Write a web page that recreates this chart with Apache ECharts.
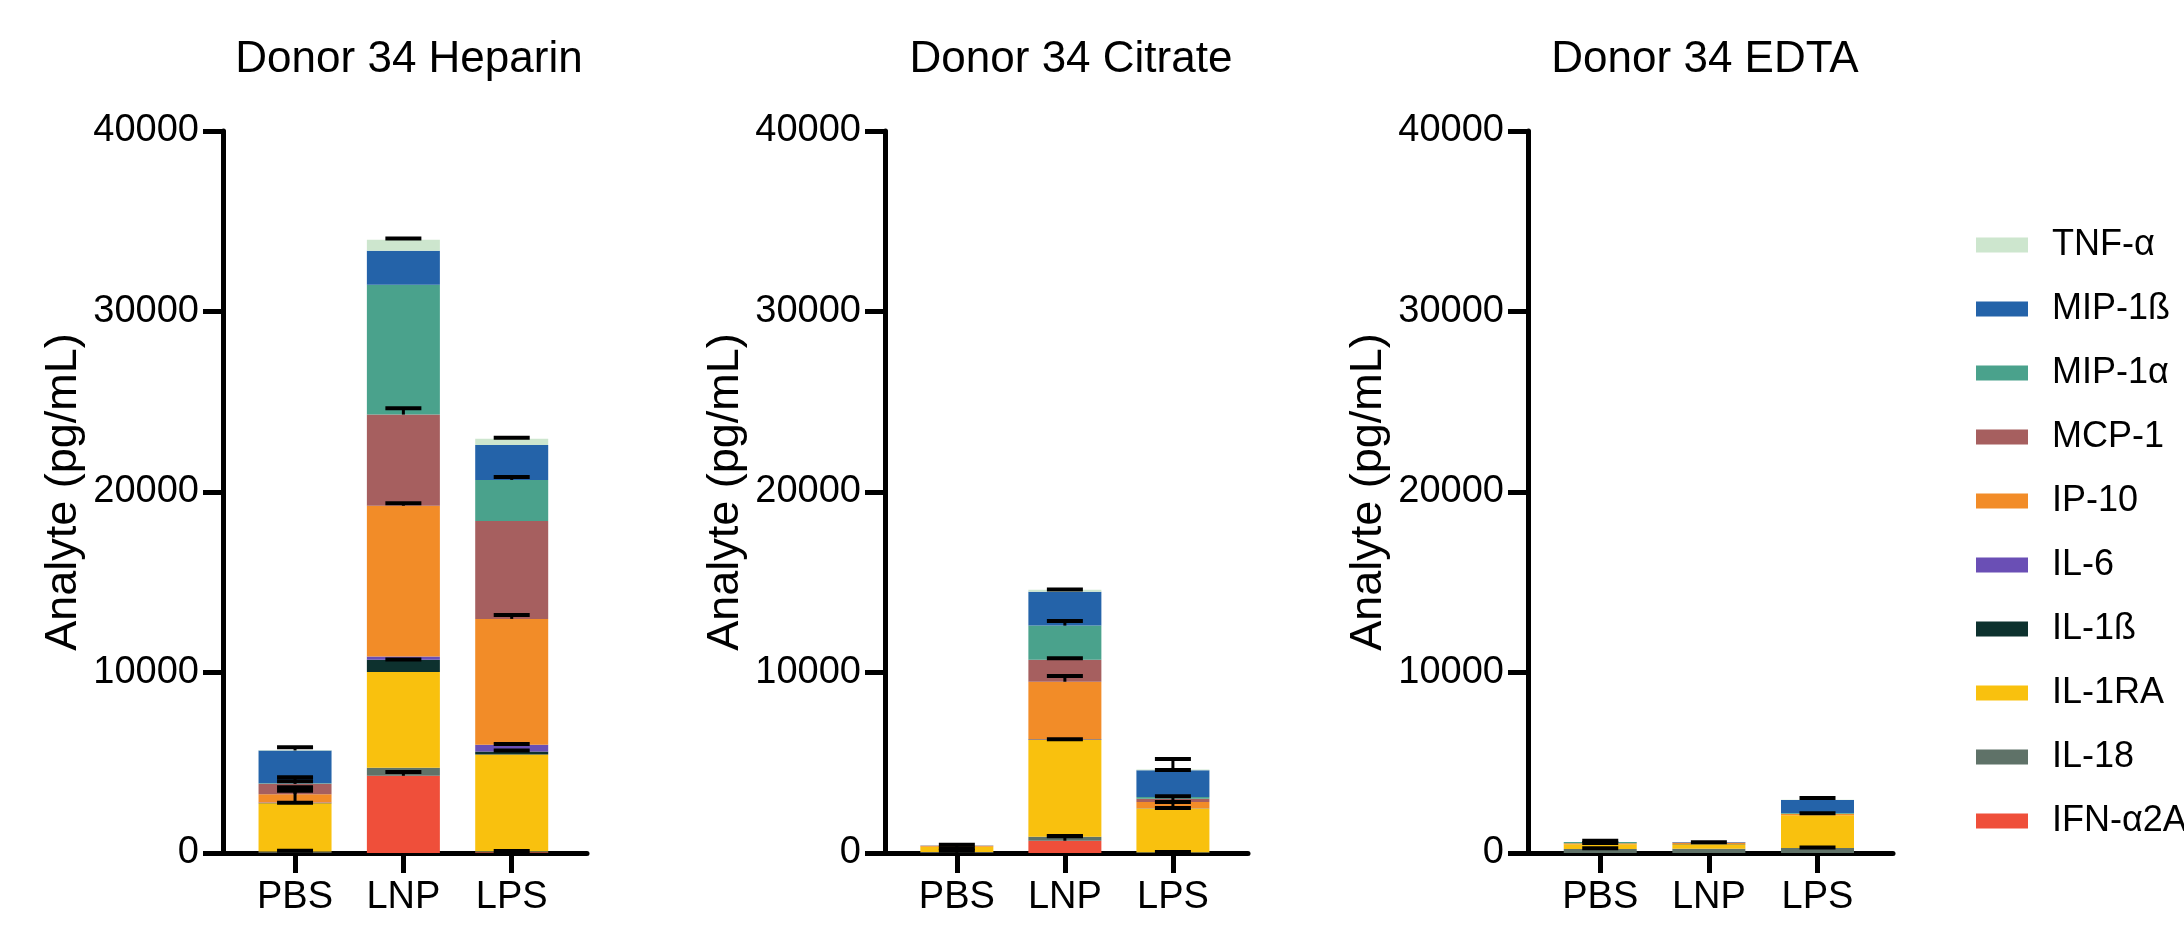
<!DOCTYPE html>
<html>
<head>
<meta charset="utf-8">
<script src="https://cdn.jsdelivr.net/npm/echarts@6/dist/echarts.min.js"></script>
<style>
  html, body { margin: 0; background: #fff; }
  #chart { width: 2184px; height: 931px; }
</style>
</head>
<body>
<div id="chart"></div>
<script>
// stacked from the bottom up
const analytes = ["IFN-α2A", "IL-18", "IL-1RA", "IL-1ß", "IL-6", "IP-10", "MCP-1", "MIP-1α", "MIP-1ß", "TNF-α"];
const conditions = ["PBS", "LNP", "LPS"];
const panelTitles = ["Donor 34 Heparin", "Donor 34 Citrate", "Donor 34 EDTA"];

// pg/mL per analyte, columns PBS / LNP / LPS
const heparinValues = [
  [20, 4280, 40],
  [60, 440, 60],
  [2670, 5310, 5360],
  [20, 670, 160],
  [30, 190, 380],
  [460, 8350, 6970],
  [570, 5050, 5420],
  [40, 7190, 2280],
  [1810, 1890, 1940],
  [20, 600, 340]
];
const citrateValues = [
  [10, 680, 0],
  [40, 225, 40],
  [290, 5355, 2435],
  [0, 30, 0],
  [10, 10, 20],
  [45, 3190, 335],
  [10, 1220, 180],
  [0, 1890, 90],
  [15, 1880, 1480],
  [0, 110, 40]
];
const edtaValues = [
  [0, 0, 0],
  [220, 240, 280],
  [260, 240, 1810],
  [0, 20, 0],
  [0, 0, 0],
  [55, 70, 70],
  [10, 10, 20],
  [65, 0, 40],
  [0, 30, 720],
  [0, 0, 10]
];

// SD shown above each segment (null = no bar drawn)
const heparinErrors = [
  [null, 210, null],
  [40, null, 10],
  [40, null, null],
  [null, 20, 60],
  [840, null, 40],
  [190, 140, 220],
  [140, 350, null],
  [320, null, 160],
  [180, null, null],
  [null, 70, 60]
];
const citrateErrors = [
  [110, 250, null],
  [210, 30, 20],
  [120, null, 20],
  [null, 10, null],
  [null, null, 335],
  [null, 310, 310],
  [null, 80, null],
  [null, 260, null],
  [null, null, 20],
  [null, 10, 590]
];
const edtaErrors = [
  [null, null, null],
  [40, null, 20],
  [70, null, null],
  [null, null, null],
  [null, null, null],
  [null, 30, 40],
  [null, null, null],
  [70, null, null],
  [null, null, null],
  [null, null, 100]
];

const colors = ["#EF4F3A", "#5F7268", "#F9C10E", "#0D312E", "#6A4FB5", "#F28C28", "#A65F5F", "#4AA28C", "#2463A9", "#CDE6CE"];

const panelValues = [heparinValues, citrateValues, edtaValues];
const panelErrors = [heparinErrors, citrateErrors, edtaErrors];
const gridLeft = [223, 885, 1528];
const gridWidth = [364, 363, 365];
const titleCenter = [404, 1066, 1700];

const FONT = "Liberation Sans, Arial, Helvetica, sans-serif";
const chart = echarts.init(document.getElementById("chart"));

function renderErr(params, api) {
  const x = api.value(0);
  const lo = api.coord([x, api.value(1)]);
  const hi = api.coord([x, api.value(2)]);
  const half = 18;
  return {
    type: "group",
    children: [
      { type: "line", shape: { x1: lo[0], y1: lo[1], x2: hi[0], y2: hi[1] }, style: { stroke: "#000", lineWidth: 3 } },
      { type: "line", shape: { x1: hi[0] - half, y1: hi[1], x2: hi[0] + half, y2: hi[1] }, style: { stroke: "#000", lineWidth: 4 } }
    ]
  };
}

const grids = [], xAxes = [], yAxes = [], titles = [], series = [];

panelTitles.forEach((t, p) => {
  grids.push({ left: gridLeft[p], width: gridWidth[p], top: 131, height: 722, containLabel: false });
  titles.push({
    text: t,
    left: titleCenter[p],
    top: 33,
    textAlign: "center",
    textStyle: { fontFamily: FONT, fontSize: 44, fontWeight: "normal", color: "#000" }
  });
  xAxes.push({
    type: "value",
    gridIndex: p,
    min: -0.665,
    max: 2.695,
    splitLine: { show: false },
    axisLine: { show: true, onZero: false, lineStyle: { color: "#000", width: 5 } },
    axisTick: { show: true, length: 20, lineStyle: { color: "#000", width: 5 }, customValues: [0, 1, 2] },
    axisLabel: {
      customValues: [0, 1, 2],
      formatter: (v) => conditions[Math.round(v)],
      fontFamily: FONT, fontSize: 38, color: "#000", margin: 26
    }
  });
  yAxes.push({
    type: "value",
    gridIndex: p,
    min: 0,
    max: 40000,
    interval: 10000,
    name: "Analyte (pg/mL)",
    nameLocation: "middle",
    nameGap: 137,
    nameTextStyle: { fontFamily: FONT, fontSize: 45, color: "#000" },
    splitLine: { show: false },
    axisLine: { show: true, onZero: false, lineStyle: { color: "#000", width: 5 } },
    axisTick: { show: true, length: 20, lineStyle: { color: "#000", width: 5 } },
    axisLabel: { formatter: (v) => String(v), fontFamily: FONT, fontSize: 38, color: "#000", margin: 24 }
  });

  const vals = panelValues[p];
  const errs = panelErrors[p];
  const cum = [0, 0, 0];
  const errData = [];
  analytes.forEach((name, k) => {
    series.push({
      name,
      type: "bar",
      xAxisIndex: p,
      yAxisIndex: p,
      stack: "panel" + p,
      barWidth: 73,
      itemStyle: { color: colors[k] },
      emphasis: { disabled: true },
      // value first so the stack runs along y
      encode: { x: 1, y: 0 },
      data: vals[k].map((v, i) => [v, i])
    });
    vals[k].forEach((v, i) => {
      cum[i] += v;
      if (errs[k][i] != null) errData.push([i, cum[i], cum[i] + errs[k][i]]);
    });
  });
  series.push({
    type: "custom",
    xAxisIndex: p,
    yAxisIndex: p,
    z: 10,
    renderItem: renderErr,
    encode: { x: 0, y: [1, 2] },
    data: errData,
    silent: true
  });
});

chart.setOption({
  animation: false,
  backgroundColor: "#fff",
  title: titles,
  grid: grids,
  xAxis: xAxes,
  yAxis: yAxes,
  legend: {
    orient: "vertical",
    left: 1971,
    top: 222,
    icon: "rect",
    itemWidth: 52,
    itemHeight: 15,
    itemGap: 28,
    data: analytes.slice().reverse(),
    selectedMode: false,
    formatter: (name) => "{g|}" + name,
    textStyle: {
      fontFamily: FONT, fontSize: 36, lineHeight: 36, color: "#000",
      rich: { g: { width: 19 } }
    }
  },
  series
});
</script>
</body>
</html>
